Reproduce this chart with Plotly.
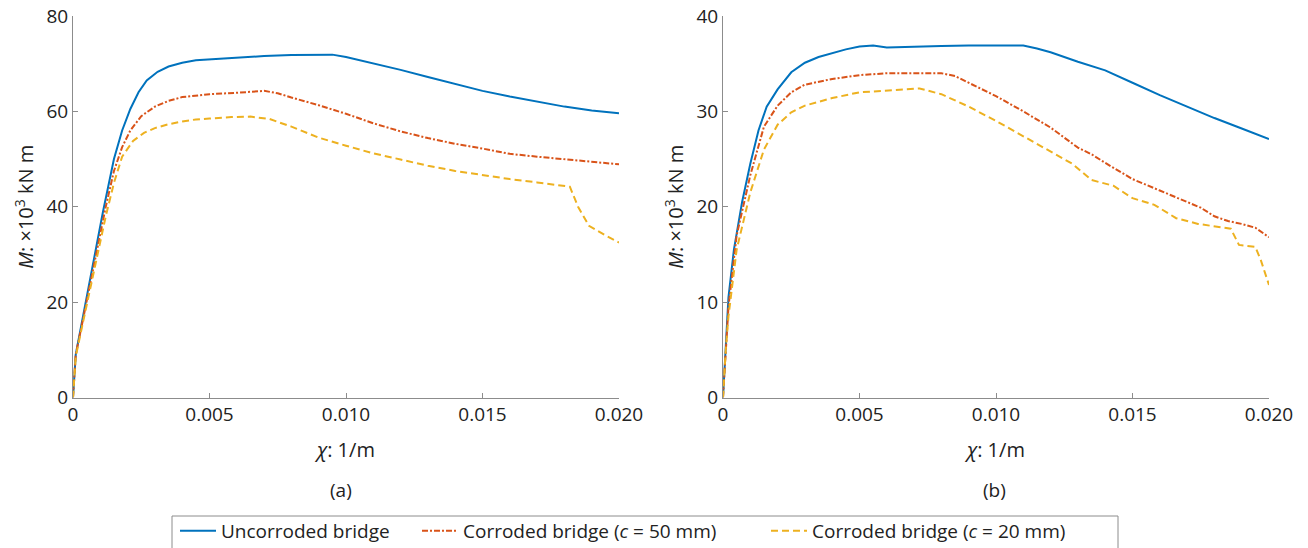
import plotly.graph_objects as go

# ---------- data ----------
# (a)
chi_a_unc = [0, 0.0001, 0.0003, 0.0007, 0.0011, 0.0015, 0.0018, 0.0021, 0.0024, 0.0027, 0.0031, 0.0035,
             0.0040, 0.0045, 0.0050, 0.0060, 0.0070, 0.0080, 0.0090, 0.0095, 0.0100, 0.0110, 0.0120,
             0.0130, 0.0140, 0.0150, 0.0160, 0.0170, 0.0180, 0.0190, 0.0200]
M_a_unc = [0, 9, 15, 27, 39, 50, 56, 60.5, 64, 66.5, 68.3, 69.4, 70.2, 70.7, 70.9, 71.3, 71.6, 71.8,
           71.9, 71.9, 71.4, 70.1, 68.7, 67.2, 65.8, 64.3, 63.1, 62.0, 61.0, 60.2, 59.6]

chi_a_c50 = [0, 0.0001, 0.0003, 0.0007, 0.0012, 0.0015, 0.0018, 0.0021, 0.0025, 0.0030, 0.0035, 0.0040,
             0.0050, 0.0060, 0.0070, 0.0075, 0.0080, 0.0090, 0.0100, 0.0110, 0.0120, 0.0130, 0.0140,
             0.0150, 0.0160, 0.0170, 0.0180, 0.0190, 0.0200]
M_a_c50 = [0, 9, 14.5, 26, 40, 47.5, 52.5, 56, 59, 61, 62.2, 63, 63.6, 63.9, 64.3, 63.8, 62.9, 61.3,
           59.5, 57.5, 55.8, 54.4, 53.2, 52.2, 51.1, 50.5, 50.0, 49.5, 48.9]

chi_a_c20 = [0, 0.0001, 0.0003, 0.0007, 0.0012, 0.0015, 0.0018, 0.0022, 0.0026, 0.0030, 0.0035, 0.0040,
             0.0045, 0.0050, 0.0058, 0.0065, 0.0072, 0.0080, 0.0090, 0.0100, 0.0110, 0.0120, 0.0130,
             0.0140, 0.0150, 0.0160, 0.0170, 0.0180, 0.0182, 0.0185, 0.0189, 0.0195, 0.0200]
M_a_c20 = [0, 8.5, 14, 25, 38, 45, 50.5, 53.8, 55.5, 56.5, 57.3, 57.9, 58.3, 58.5, 58.8, 58.9, 58.4,
           56.8, 54.5, 52.8, 51.2, 49.9, 48.6, 47.5, 46.6, 45.8, 45.1, 44.4, 44.2, 40, 36, 34, 32.5]

# (b)
chi_b_unc = [0, 0.0001, 0.0002, 0.0004, 0.0007, 0.0010, 0.0013, 0.0016, 0.0020, 0.0025, 0.0030, 0.0035,
             0.0040, 0.0045, 0.0050, 0.0055, 0.0060, 0.0070, 0.0080, 0.0090, 0.0100, 0.0110, 0.0115,
             0.0120, 0.0130, 0.0140, 0.0150, 0.0160, 0.0170, 0.0180, 0.0190, 0.0200]
M_b_unc = [0, 6, 10.5, 15.5, 20.5, 24.5, 28, 30.5, 32.3, 34.1, 35.1, 35.7, 36.1, 36.5, 36.8, 36.9, 36.7,
           36.8, 36.85, 36.9, 36.9, 36.9, 36.6, 36.2, 35.2, 34.3, 33.0, 31.7, 30.5, 29.3, 28.2, 27.1]

chi_b_c50 = [0, 0.0001, 0.0002, 0.0005, 0.0010, 0.0015, 0.0020, 0.0025, 0.0030, 0.0040, 0.0050, 0.0060,
             0.0070, 0.0080, 0.0085, 0.0090, 0.0100, 0.0110, 0.0120, 0.0130, 0.0135, 0.0140, 0.0150,
             0.0160, 0.0170, 0.0175, 0.0180, 0.0185, 0.0190, 0.0195, 0.0200]
M_b_c50 = [0, 5.5, 9.5, 17, 23.3, 28.4, 30.6, 32.0, 32.8, 33.4, 33.8, 34.0, 34.0, 34.0, 33.7, 33.0,
           31.6, 30.0, 28.3, 26.2, 25.5, 24.6, 22.9, 21.7, 20.5, 19.9, 19.0, 18.5, 18.2, 17.8, 16.8]

chi_b_c20 = [0, 0.0001, 0.0002, 0.0005, 0.0010, 0.0015, 0.0020, 0.0025, 0.0030, 0.0040, 0.0050, 0.0060,
             0.0072, 0.0080, 0.0090, 0.0100, 0.0105, 0.0112, 0.0120, 0.0128, 0.0135, 0.0143, 0.0150,
             0.0158, 0.0166, 0.0174, 0.0186, 0.0189, 0.0195, 0.0197, 0.0200]
M_b_c20 = [0, 5, 8.5, 15.5, 21.5, 26, 28.6, 29.9, 30.6, 31.4, 32.0, 32.2, 32.4, 31.8, 30.5, 29.0,
           28.2, 27.0, 25.8, 24.5, 22.8, 22.2, 20.9, 20.2, 18.8, 18.2, 17.7, 16.0, 15.8, 14.4, 11.8]

series_names = ["Uncorroded bridge", "Corroded bridge (<i>c</i> = 50 mm)", "Corroded bridge (<i>c</i> = 20 mm)"]
x_tickvals = [0, 0.005, 0.010, 0.015, 0.020]
x_ticktext = ["0", "0.005", "0.010", "0.015", "0.020"]
y_ticks_a = [0, 20, 40, 60, 80]
y_ticks_b = [0, 10, 20, 30, 40]
panel_labels = ["(a)", "(b)"]

# ---------- styling ----------
W, H = 1308, 548
FONT = "Open Sans"
colors = ["#0072BD", "#D95319", "#EDB120"]
dashes = ["solid", "6px,2px,2px,2px", "7px,4px"]
legends = ["legend", "legend2", "legend3"]

fig = go.Figure()

panels = [
    ("x", "y", [(chi_a_unc, M_a_unc), (chi_a_c50, M_a_c50), (chi_a_c20, M_a_c20)], True),
    ("x2", "y2", [(chi_b_unc, M_b_unc), (chi_b_c50, M_b_c50), (chi_b_c20, M_b_c20)], False),
]
for xa, ya, data, show in panels:
    for i, (cx, my) in enumerate(data):
        fig.add_trace(go.Scatter(
            x=cx, y=my, mode="lines", xaxis=xa, yaxis=ya,
            name=series_names[i], showlegend=show, legend=legends[i],
            line=dict(color=colors[i], width=2, dash=dashes[i]),
        ))

def px_x(p):
    return p / W

def px_y(p):
    return 1 - p / H

axis_common = dict(
    showline=True, linecolor="#8c8c8c", linewidth=1,
    ticks="inside", ticklen=5, tickcolor="#8c8c8c",
    showgrid=False, zeroline=False, automargin=False,
    ticklabeloverflow="allow",
    tickfont=dict(family=FONT, size=19, color="#222"),
    mirror=False,
)
title_font = dict(family=FONT, size=20, color="#222")

ydom = [px_y(397.5), px_y(16)]
fig.update_layout(
    template="none",
    width=W, height=H,
    margin=dict(l=0, r=0, t=0, b=0, autoexpand=False),
    paper_bgcolor="white", plot_bgcolor="white",
    font=dict(family=FONT, size=19, color="#222"),
    xaxis=dict(domain=[px_x(73), px_x(619)], range=[0, 0.020], tickvals=x_tickvals, ticktext=x_ticktext,
               anchor="y", title=dict(text="<i>χ</i>: 1/m", font=title_font, standoff=16),
               **axis_common),
    yaxis=dict(domain=ydom, range=[0, 80], tickvals=y_ticks_a, anchor="x",
               title=dict(text="<i>M</i>: ×10<sup>3</sup> kN m", font=title_font, standoff=7),
               **axis_common),
    xaxis2=dict(domain=[px_x(723), px_x(1269)], range=[0, 0.020], tickvals=x_tickvals, ticktext=x_ticktext,
                anchor="y2", title=dict(text="<i>χ</i>: 1/m", font=title_font, standoff=16),
                **axis_common),
    yaxis2=dict(domain=ydom, range=[0, 40], tickvals=y_ticks_b, anchor="x2",
                title=dict(text="<i>M</i>: ×10<sup>3</sup> kN m", font=title_font, standoff=7),
                **axis_common),
    showlegend=True,
)

leg_common = dict(orientation="h", yanchor="middle", xanchor="left", bgcolor="rgba(0,0,0,0)",
                  borderwidth=0, font=dict(family=FONT, size=19, color="#222"), itemwidth=36)
fig.update_layout(
    legend=dict(x=px_x(175), y=px_y(531), **leg_common),
    legend2=dict(x=px_x(417), y=px_y(531), **leg_common),
    legend3=dict(x=px_x(766), y=px_y(531), **leg_common),
)

# legend frame (bottom edge runs off the page, as in the reference)
fig.add_shape(type="rect", xref="paper", yref="paper",
              x0=px_x(172), x1=px_x(1118), y0=px_y(560), y1=px_y(516),
              line=dict(color="#8c8c8c", width=1), fillcolor="rgba(0,0,0,0)")

# panel labels
for lab, cx in zip(panel_labels, [341, 994]):
    fig.add_annotation(text=lab, x=px_x(cx), y=px_y(490), xref="paper", yref="paper",
                       showarrow=False, xanchor="center", yanchor="middle",
                       font=dict(family=FONT, size=19, color="#222"))

fig.write_html("out.html",
               config={"displayModeBar": False},
               post_script="document.body.style.margin='0px';document.body.style.overflow='hidden';")
